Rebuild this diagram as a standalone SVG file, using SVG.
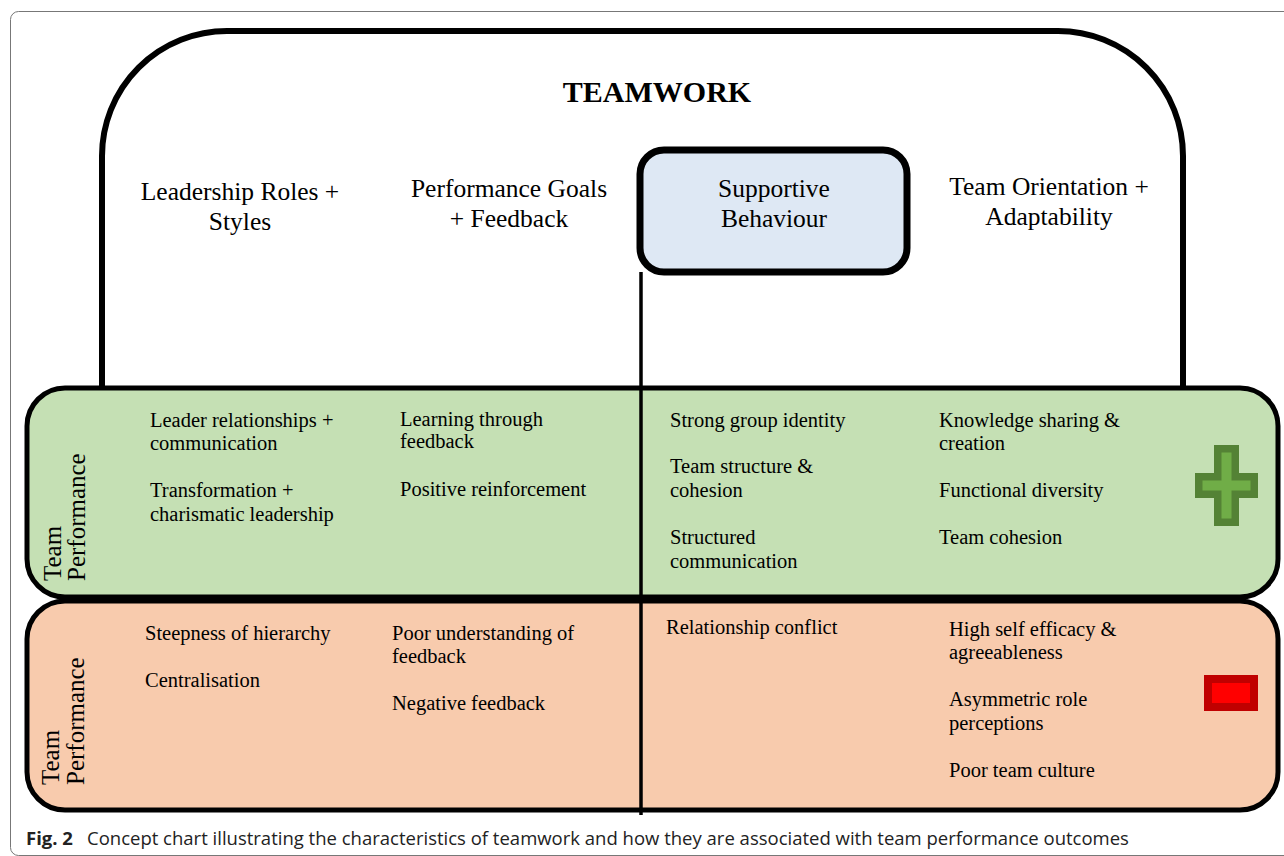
<svg xmlns="http://www.w3.org/2000/svg" width="1284" height="856" viewBox="0 0 1284 856">
<style>
.serif{font-family:"Liberation Serif","Times New Roman",serif;fill:#000}
.hdr{font-size:25.5px;text-anchor:middle}
.item{font-size:20.5px}
.rot{font-size:25px}
.box{stroke:#000;stroke-width:5}
.cap{font-family:"Open Sans","Noto Sans",sans-serif;font-size:18.5px;fill:#222}
</style>
<rect width="1284" height="856" fill="#fff"/>
<rect x="10.5" y="11.5" width="1300" height="844" rx="8" fill="none" stroke="#777" stroke-width="1"/>

<g id="teamwork">
<path d="M102,386 V156 A125,125 0 0 1 227,31 H1058 A125,125 0 0 1 1183,156 V386" fill="none" stroke="#000" stroke-width="6"/>
<text class="serif" x="657" y="102" font-size="30" font-weight="bold" text-anchor="middle">TEAMWORK</text>
</g>

<g id="leadership">
<text class="serif hdr"><tspan x="240" y="200">Leadership Roles +</tspan><tspan x="240" y="230">Styles</tspan></text>
</g>
<g id="goals">
<text class="serif hdr"><tspan x="509" y="197">Performance Goals</tspan><tspan x="509" y="227">+ Feedback</tspan></text>
</g>
<g id="orientation">
<text class="serif hdr"><tspan x="1049" y="195">Team Orientation +</tspan><tspan x="1049" y="225">Adaptability</tspan></text>
</g>

<g id="positive">
<rect class="box" x="27" y="388" width="1251" height="209" rx="38" fill="#c5e0b4"/>
<text class="serif rot" transform="translate(61,581) rotate(-90)">Team</text>
<text class="serif rot" transform="translate(85,581) rotate(-90)">Performance</text>
<text class="serif item"><tspan x="150" y="427">Leader relationships +</tspan><tspan x="150" y="450">communication</tspan><tspan x="150" y="497">Transformation +</tspan><tspan x="150" y="521">charismatic leadership</tspan></text>
<text class="serif item"><tspan x="400" y="426">Learning through</tspan><tspan x="400" y="448">feedback</tspan><tspan x="400" y="496">Positive reinforcement</tspan></text>
<text class="serif item"><tspan x="670" y="427">Strong group identity</tspan><tspan x="670" y="473">Team structure &amp;</tspan><tspan x="670" y="497">cohesion</tspan><tspan x="670" y="544">Structured</tspan><tspan x="670" y="568">communication</tspan></text>
<text class="serif item"><tspan x="939" y="427">Knowledge sharing &amp;</tspan><tspan x="939" y="450">creation</tspan><tspan x="939" y="497">Functional diversity</tspan><tspan x="939" y="544">Team cohesion</tspan></text>
<path d="M1214,445 H1239 V473 H1258 V498 H1239 V526 H1214 V498 H1195 V473 H1214 Z" fill="#548235"/>
<path d="M1221.5,452.5 H1231.5 V480.5 H1250.5 V490.5 H1231.5 V518.5 H1221.5 V490.5 H1202.5 V480.5 H1221.5 Z" fill="#70ad47"/>
</g>

<g id="negative">
<rect class="box" x="27" y="601" width="1251" height="209" rx="38" fill="#f8cbad"/>
<text class="serif rot" transform="translate(59,785) rotate(-90)">Team</text>
<text class="serif rot" transform="translate(84,785) rotate(-90)">Performance</text>
<text class="serif item"><tspan x="145" y="640">Steepness of hierarchy</tspan><tspan x="145" y="687">Centralisation</tspan></text>
<text class="serif item"><tspan x="392" y="640">Poor understanding of</tspan><tspan x="392" y="663">feedback</tspan><tspan x="392" y="710">Negative feedback</tspan></text>
<text class="serif item"><tspan x="666" y="634">Relationship conflict</tspan></text>
<text class="serif item"><tspan x="949" y="636">High self efficacy &amp;</tspan><tspan x="949" y="659">agreeableness</tspan><tspan x="949" y="706">Asymmetric role</tspan><tspan x="949" y="730">perceptions</tspan><tspan x="949" y="777">Poor team culture</tspan></text>
<rect x="1204" y="675" width="54" height="36" fill="#c00000"/>
<rect x="1212" y="683" width="38" height="20" fill="#ff0000"/>
</g>

<g id="connectors">
<line x1="641" y1="272" x2="641" y2="815" stroke="#000" stroke-width="3.5"/>
</g>

<g id="supportive">
<rect x="640" y="150" width="267" height="122" rx="24" fill="#dee8f4" stroke="#000" stroke-width="7"/>
<text class="serif hdr"><tspan x="774" y="197">Supportive</tspan><tspan x="774" y="227">Behaviour</tspan></text>
</g>

<text class="cap" y="845"><tspan x="26" font-weight="bold">Fig. 2</tspan><tspan x="87">Concept chart illustrating the characteristics of teamwork and how they are associated with team performance outcomes</tspan></text>
</svg>
